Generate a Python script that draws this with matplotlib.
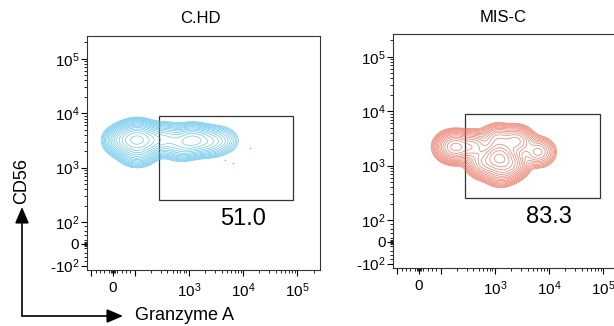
import numpy as np
import matplotlib
matplotlib.use("Agg")
import matplotlib.pyplot as plt
from matplotlib.patches import Rectangle, FancyArrowPatch

plt.rcParams['font.family'] = ['Liberation Sans', 'DejaVu Sans']
plt.rcParams['mathtext.fontset'] = 'custom'
plt.rcParams['mathtext.rm'] = 'Liberation Sans'
plt.rcParams['mathtext.it'] = 'Liberation Sans:italic'
plt.rcParams['mathtext.bf'] = 'Liberation Sans:bold'

# population landmarks (Granzyme A, CD56) with relative weights
hd_x = [110, 50, 200, 112, 112, 398, 1150, 708, 2240, 3980]
hd_y = [3240, 3160, 3160, 4170, 2000, 3390, 3240, 2510, 3020, 3160]
hd_w = [4, 2, 2, 1.2, 1.5, 1.5, 2.5, 1, 1.2, 0.5]
hd_out_x = [13200, 4570, 6600]
hd_out_y = [2290, 1380, 1200]

misc_x = [1200, 193, 150, 398, 631, 2000, 2510, 1120, 6300, 1260]
misc_y = [1430, 2190, 2240, 2240, 1120, 1050, 2820, 3020, 1780, 790]
misc_w = [4, 2, 0.8, 1.5, 1.5, 1.5, 1.5, 1.2, 0.9, 1]

gate_x = [280, 85000]
gate_y = [260, 9000]
gate_pct = ["51.0", "83.3"]
titles = ["C.HD", "MIS-C"]

x_major = [-100, 0, 100, 1000, 10000, 100000]
x_labels = ['', '0', '', '$10^{3}$', '$10^{4}$', '$10^{5}$']
y_major = [-100, 0, 100, 1000, 10000, 100000]
y_labels = ['-$10^{2}$', '0', '$10^{2}$', '$10^{3}$', '$10^{4}$', '$10^{5}$']

LT = 100.0   # linear threshold
LS = 0.4     # decades used by linear half


def fwd(v):
    v = np.asarray(v, dtype=float)
    a = np.abs(v)
    return np.where(a <= LT, v / LT * LS, np.sign(v) * (LS + np.log10(np.maximum(a, LT) / LT)))


def inv(t):
    t = np.asarray(t, dtype=float)
    a = np.abs(t)
    return np.where(a <= LS, t / LS * LT, np.sign(t) * LT * 10 ** (np.maximum(a, LS) - LS))


def density(xs, ys, ws, bwx, bwy):
    t = np.linspace(-0.6, 3.9, 450)
    TX, TY = np.meshgrid(t, t)
    Z = np.zeros_like(TX)
    for px, py, w in zip(fwd(xs), fwd(ys), ws):
        Z += w * np.exp(-(TX - px) ** 2 / (2 * bwx ** 2) - (TY - py) ** 2 / (2 * bwy ** 2))
    return inv(TX), inv(TY), Z


minor = [-80, -60, -40, -20, -10, -5, 5, 10, 20, 40, 60, 80]
for d in [100, 1000, 10000]:
    minor += [k * d for k in range(2, 10)]
minor += [200000]


def setup(ax, title, tx):
    for s in ['x', 'y']:
        getattr(ax, 'set_%sscale' % s)('symlog', linthresh=LT, linscale=LS * 0.9)
    ax.set_xlim(-120, 262144)
    ax.set_ylim(-120, 262144)
    ax.set_xticks(x_major, x_labels)
    ax.set_yticks(y_major, y_labels)
    ax.set_xticks(minor, minor=True)
    ax.set_yticks(minor, minor=True)
    ax.tick_params(which='major', length=4, width=0.8, labelsize=11)
    ax.tick_params(axis='x', which='major', pad=4)
    ax.tick_params(axis='y', which='major', pad=1.5)
    ax.tick_params(which='minor', length=2, width=0.6)
    for sp in ax.spines.values():
        sp.set_linewidth(0.8)
        sp.set_color('#333333')
    ax.set_title(title, fontsize=12, pad=9, x=tx)


fig = plt.figure(figsize=(6.14, 3.26), dpi=100)
ax1 = fig.add_axes([0.1417, 0.1718, 0.3795, 0.7178])
ax2 = fig.add_axes([0.6401, 0.1779, 0.3795, 0.7178])

panels = [(ax1, hd_x, hd_y, hd_w, '#5bbfea', 0.17, 0.13, 0.485),
          (ax2, misc_x, misc_y, misc_w, '#e8705a', 0.15, 0.13, 0.472)]
for i, (ax, xs, ys, ws, col, bwx, bwy, tx) in enumerate(panels):
    X, Y, Z = density(xs, ys, ws, bwx, bwy)
    levels = Z.max() * np.geomspace(0.015, 0.88, 16)
    ax.contour(X, Y, Z, levels=levels, colors=col, linewidths=0.5, alpha=0.9)
    ax.add_patch(Rectangle((gate_x[0], gate_y[0]), gate_x[1] - gate_x[0], gate_y[1] - gate_y[0],
                           fill=False, edgecolor='#333333', lw=0.9))
    ax.text(0.67, 0.22, gate_pct[i], transform=ax.transAxes, ha='center', va='center', fontsize=17)
    setup(ax, titles[i], tx)

ax1.plot(hd_out_x, hd_out_y, 's', ms=1, color='#5bbfea', mew=0)

# axis arrows
x0, y0 = 22 / 614, 1 - 316 / 326
fig.add_artist(FancyArrowPatch((x0, y0), (x0, 1 - 207 / 326), transform=fig.transFigure,
                               arrowstyle='-|>,head_length=0.7,head_width=0.3', mutation_scale=14,
                               lw=1.2, color='black', shrinkA=0, shrinkB=0))
fig.add_artist(FancyArrowPatch((x0, y0), (123 / 614, y0), transform=fig.transFigure,
                               arrowstyle='-|>,head_length=0.7,head_width=0.3', mutation_scale=14,
                               lw=1.2, color='black', shrinkA=0, shrinkB=0))
fig.text(22 / 614, 1 - 181 / 326, 'CD56', rotation=90, ha='center', va='center', fontsize=13)
fig.text(135 / 614, 1 - 315 / 326, 'Granzyme A', ha='left', va='center', fontsize=13)

fig.savefig('out.png', dpi=100)
